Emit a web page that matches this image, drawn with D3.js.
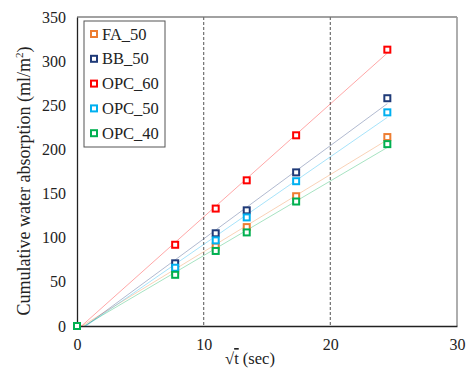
<!DOCTYPE html>
<html>
<head>
<meta charset="utf-8">
<script src="https://cdn.jsdelivr.net/npm/d3@7/dist/d3.min.js"></script>
<style>
  html, body { margin: 0; padding: 0; background: #fff; }
  svg { display: block; }
  svg text { font-family: "Liberation Serif", "Times New Roman", "DejaVu Serif", serif; }
</style>
</head>
<body>
<svg id="chart" width="467" height="374"></svg>
<script>
// Data
const sqrtT = [0, 7.75, 10.95, 13.4, 17.3, 24.5];
const seriesNames = ["FA_50", "BB_50", "OPC_60", "OPC_50", "OPC_40"];
const FA_50  = [0, 63, 90, 112, 147, 214];
const BB_50  = [0, 71, 105, 131, 174, 258];
const OPC_60 = [0, 92, 133, 165, 216, 313];
const OPC_50 = [0, 66, 97, 123, 164, 242];
const OPC_40 = [0, 58, 85, 106, 141, 206];
const seriesValues = [FA_50, BB_50, OPC_60, OPC_50, OPC_40];
const colors = ["#ED7D31", "#1F3A78", "#FF0000", "#00B0F0", "#00B050"];
const xTicks = [0, 10, 20, 30];
const yTicks = [0, 50, 100, 150, 200, 250, 300, 350];
const vLines = [10, 20];

const FONT = "Liberation Serif, Times New Roman, serif";
const svg = d3.select("#chart");
const L = 77, R = 457, T = 17, B = 326;
const x = d3.scaleLinear().domain([0, 30]).range([L, R]);
const y = d3.scaleLinear().domain([0, 350]).range([B, T]);

svg.append("defs").append("clipPath").attr("id", "clip")
  .append("rect").attr("x", L).attr("y", T).attr("width", R - L).attr("height", B - T);

// frame (top and right)
svg.append("line").attr("x1", L).attr("x2", R).attr("y1", T).attr("y2", T)
  .attr("stroke", "#444").attr("stroke-width", 1.2);
svg.append("line").attr("x1", R).attr("x2", R).attr("y1", T).attr("y2", B)
  .attr("stroke", "#9a9a9a").attr("stroke-width", 1.6);

// dashed vertical lines
svg.selectAll(".vline").data(vLines).enter().append("line")
  .attr("x1", d => x(d)).attr("x2", d => x(d)).attr("y1", T).attr("y2", B)
  .attr("stroke", "#707070").attr("stroke-width", 1.2).attr("stroke-dasharray", "3,2");

// axes
const xAxis = svg.append("g").attr("transform", `translate(0,${B})`)
  .call(d3.axisBottom(x).tickValues(xTicks).tickSize(0).tickPadding(13));
const yAxis = svg.append("g").attr("transform", `translate(${L},0)`)
  .call(d3.axisLeft(y).tickValues(yTicks).tickSize(0).tickPadding(11));
[xAxis, yAxis].forEach(g => {
  g.attr("font-family", FONT);
  g.select(".domain").attr("stroke", "#222").attr("stroke-width", 1.3);
  g.selectAll("text").attr("font-family", FONT)
    .attr("font-size", 16).attr("fill", "#222");
});

// trendlines (least squares fit), clipped to plot area
const lineG = svg.append("g").attr("clip-path", "url(#clip)");
seriesValues.forEach((vals, i) => {
  const n = vals.length;
  const mx = d3.mean(sqrtT), my = d3.mean(vals);
  let sxy = 0, sxx = 0;
  for (let k = 0; k < n; k++) { sxy += (sqrtT[k] - mx) * (vals[k] - my); sxx += (sqrtT[k] - mx) ** 2; }
  const m = sxy / sxx, b = my - m * mx;
  const x0 = 0, x1 = d3.max(sqrtT);
  lineG.append("line")
    .attr("x1", x(x0)).attr("y1", y(m * x0 + b))
    .attr("x2", x(x1)).attr("y2", y(m * x1 + b))
    .attr("stroke", colors[i]).attr("stroke-opacity", 0.35).attr("stroke-width", 1);
});

// markers
const ms = 6;
seriesValues.forEach((vals, i) => {
  svg.append("g").selectAll("rect").data(vals.map((v, k) => [sqrtT[k], v])).enter()
    .append("rect")
    .attr("x", d => x(d[0]) - ms / 2).attr("y", d => y(d[1]) - ms / 2)
    .attr("width", ms).attr("height", ms)
    .attr("fill", "#fff").attr("stroke", colors[i]).attr("stroke-width", 2);
});

// legend
const lg = svg.append("g");
lg.append("rect").attr("x", 84).attr("y", 21).attr("width", 81).attr("height", 126)
  .attr("fill", "#fff").attr("stroke", "#555").attr("stroke-width", 1);
seriesNames.forEach((name, i) => {
  const cy = 34 + i * 24.8;
  lg.append("rect").attr("x", 94 - ms / 2).attr("y", cy - ms / 2).attr("width", ms).attr("height", ms)
    .attr("fill", "#fff").attr("stroke", colors[i]).attr("stroke-width", 2);
  lg.append("text").attr("x", 102).attr("y", cy + 5.5).attr("font-size", 16.5)
    .attr("font-family", FONT).attr("fill", "#222").text(name);
});

// axis titles
const xt = svg.append("text").attr("x", 250).attr("y", 364).attr("text-anchor", "middle")
  .attr("font-family", FONT).attr("font-size", 16.5).attr("fill", "#222");
xt.append("tspan").text("√");
xt.append("tspan").attr("style", "text-decoration: overline").text("t");
xt.append("tspan").text(" (sec)");

const yt = svg.append("text")
  .attr("transform", "translate(30,181) rotate(-90)")
  .attr("text-anchor", "middle").attr("font-family", FONT)
  .attr("font-size", 18).attr("fill", "#222");
yt.append("tspan").text("Cumulative water absorption (ml/m");
yt.append("tspan").attr("font-size", 11).attr("dy", -7).text("2");
yt.append("tspan").attr("dy", 7).text(")");
</script>
</body>
</html>
